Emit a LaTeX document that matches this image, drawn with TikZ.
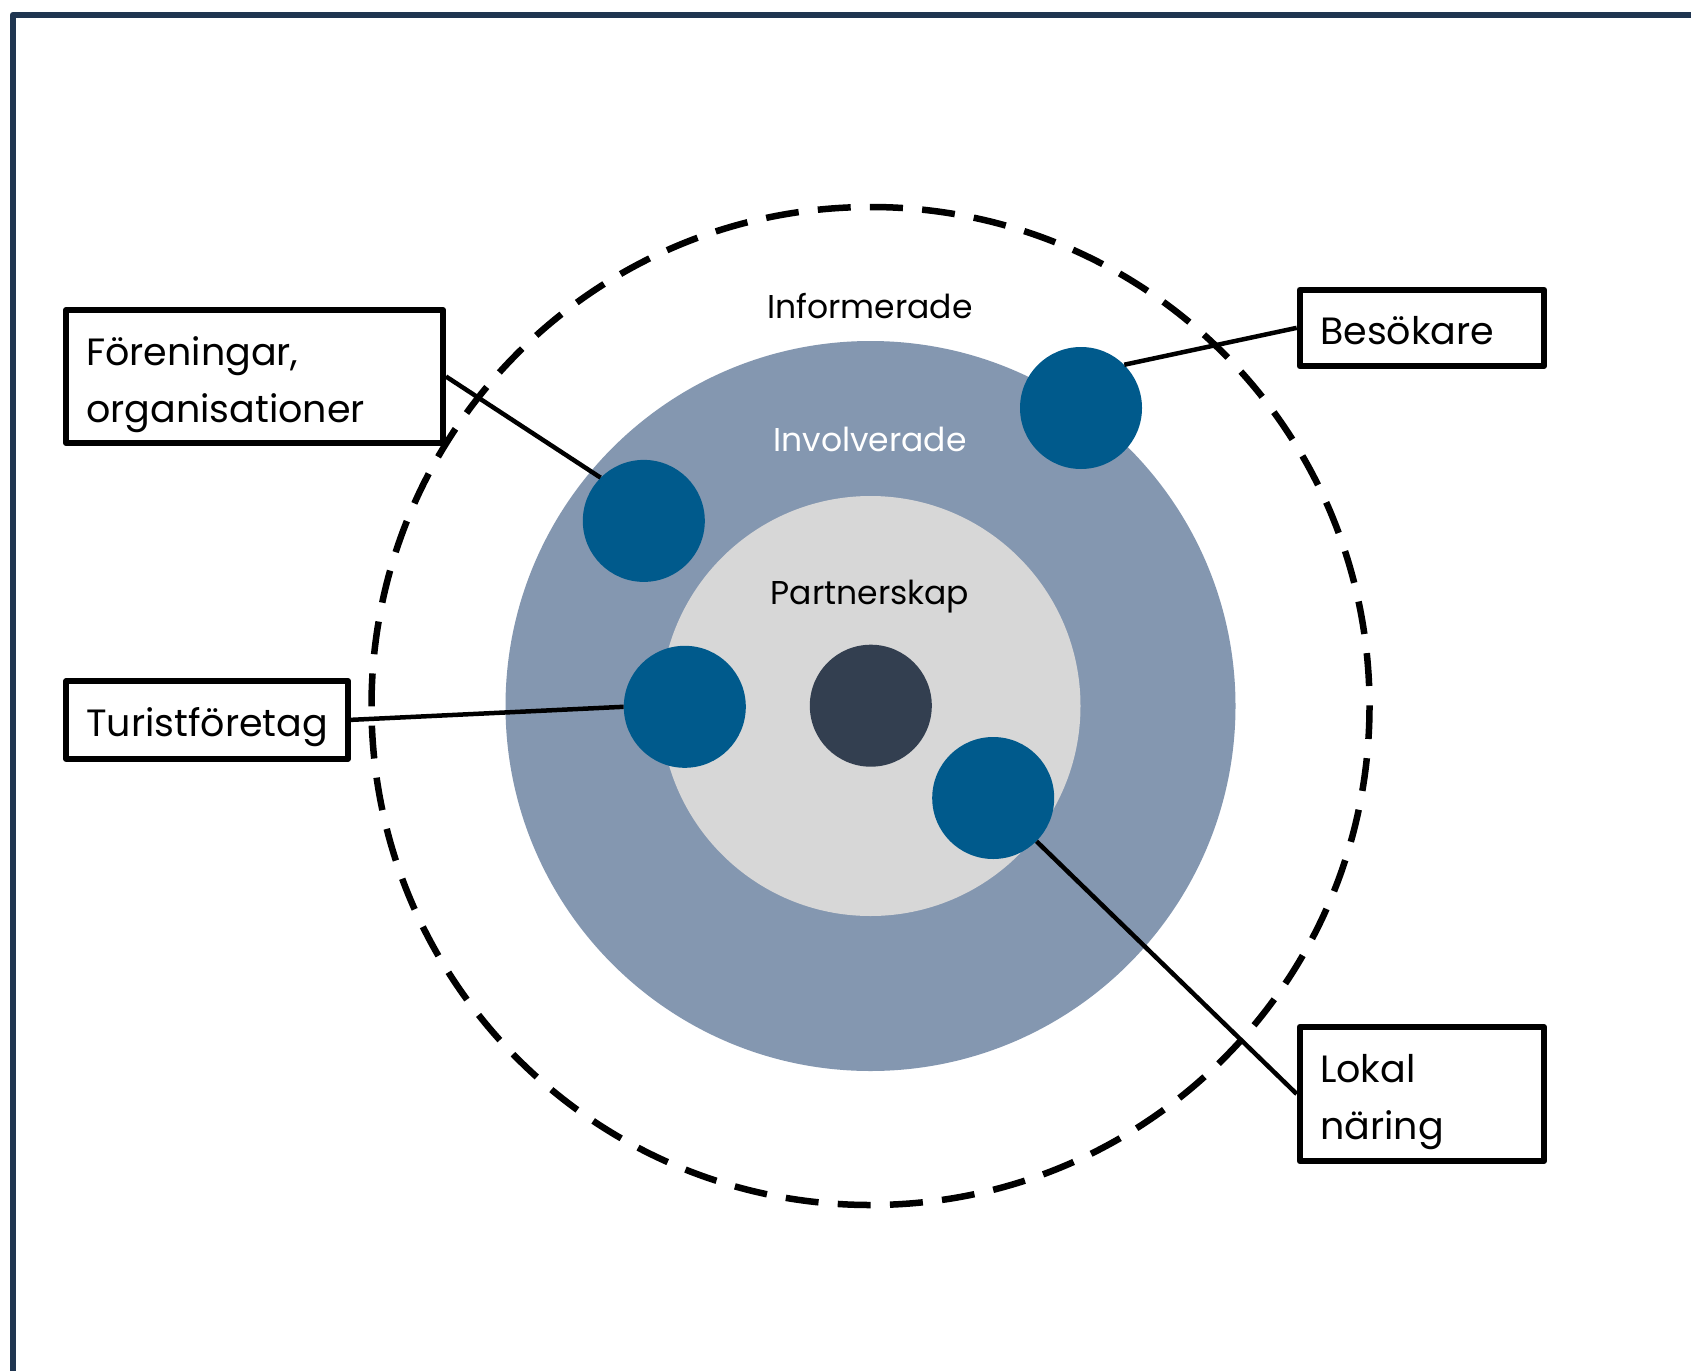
\documentclass[tikz,border=0pt]{standalone}
\usepackage{fontspec}
\setmainfont{Poppins}
\definecolor{framec}{HTML}{1F3550}
\definecolor{midc}{HTML}{8497B0}
\definecolor{grayc}{HTML}{D7D7D7}
\definecolor{bluec}{HTML}{005A8C}
\definecolor{darkc}{HTML}{333F50}
\tikzset{
  lbl/.style={font=\fontsize{38}{57}\selectfont, inner sep=0pt, anchor=base west},
  ctr/.style={font=\fontsize{33}{57}\selectfont, inner sep=0pt, anchor=base},
  boxst/.style={draw=black, line width=6pt, fill=white, rectangle, inner sep=0pt, line join=round},
  dot/.style={circle, minimum size=122pt, inner sep=0pt, fill=bluec},
  conn/.style={draw=black, line width=4.5pt},
}
\begin{document}
\begin{tikzpicture}[x=1pt,y=-1pt]
\useasboundingbox (0,0) rectangle (1691,1370);
\fill[white] (0,0) rectangle (1691,1370);
% frame
\draw[framec, line width=6pt, line join=round] (12.7,1375) -- (12.7,15) -- (1696,15);
% rings
\draw[black, line width=6.5pt, dash pattern=on 33pt off 19.25pt] (870.5,706) circle[radius=499];
\fill[midc] (870.5,706) circle[radius=365];
\fill[grayc] (870.5,706) circle[radius=210];
% ring labels
\node[ctr] (tinf) at (870,318) {Informerade};
\node[ctr, text=white] (tinv) at (870,451) {Involverade};
\node[ctr] (tpart) at (870,604) {Partnerskap};
% boxes
\node[boxst, minimum width=377pt, minimum height=133pt] (foren) at (254.5,376.5) {};
\node[boxst, minimum width=244.3pt, minimum height=76.3pt] (besok) at (1421.85,327.85) {};
\node[boxst, minimum width=281.7pt, minimum height=77.7pt] (turist) at (207.15,719.85) {};
\node[boxst, minimum width=244.3pt, minimum height=134pt] (lokal) at (1421.85,1094) {};
\node[lbl] (tforen1) at (86,365) {Föreningar,};
\node[lbl] (tforen2) at (86,422) {organisationer};
\node[lbl] (tbesok) at (1320,344) {Besökare};
\node[lbl] (tturist) at (86,736) {Turistföretag};
\node[lbl] (tlokal1) at (1320,1082) {Lokal};
\node[lbl] (tlokal2) at (1320,1139) {näring};
% circles
\node[circle, minimum size=122pt, inner sep=0pt, fill=darkc] (core) at (870.8,705.7) {};
\node[dot] (c1) at (643.8,520.9) {};
\node[dot] (c2) at (1081,408) {};
\node[dot] (c3) at (684.8,706.8) {};
\node[dot] (c4) at (993.2,798) {};
% connectors
\draw[conn] (foren.east) -- (c1.135);
\draw[conn] (besok.west) -- (c2.45);
\draw[conn] (turist.east) -- (c3.west);
\draw[conn] (lokal.west) -- (c4.-45);
\end{tikzpicture}
\end{document}
